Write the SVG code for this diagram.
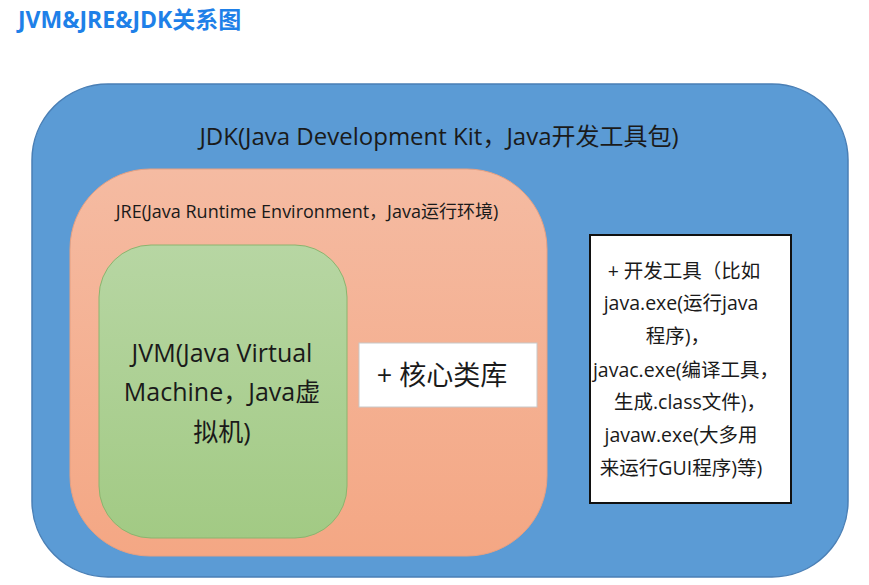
<svg xmlns="http://www.w3.org/2000/svg" width="869" height="585" viewBox="0 0 869 585">
<defs>
<linearGradient id="gJre" x1="0" y1="0" x2="0" y2="1">
<stop offset="0" stop-color="#F5BBA2"/>
<stop offset="1" stop-color="#F4A784"/>
</linearGradient>
<linearGradient id="gJvm" x1="0" y1="0" x2="0" y2="1">
<stop offset="0" stop-color="#B7D6A3"/>
<stop offset="1" stop-color="#A2CA84"/>
</linearGradient>
<style>
text{font-family:"Open Sans","Noto Sans CJK SC",sans-serif;fill:#1a1a1a;}
.title{font-weight:bold;fill:#1E80E8;font-size:23px;}
</style>
</defs>
<rect width="869" height="585" fill="#ffffff"/>
<text class="title" x="18" y="28">JVM&amp;JRE&amp;JDK关系图</text>
<g id="jdk">
<rect x="32" y="84" width="816" height="493" rx="76" ry="76" fill="#5B9BD5" stroke="#4A7FB5" stroke-width="1.5"/>
<text x="439" y="145" text-anchor="middle" font-size="24">JDK(Java Development Kit，Java开发工具包)</text>
</g>
<g id="jre">
<rect x="70" y="169" width="477" height="387" rx="80" ry="80" fill="url(#gJre)" stroke="#E8A080" stroke-width="1"/>
<text x="307" y="218" text-anchor="middle" font-size="18">JRE(Java Runtime Environment，Java运行环境)</text>
</g>
<g id="jvm">
<rect x="99" y="245" width="248" height="293" rx="52" ry="52" fill="url(#gJvm)" stroke="#8CB46E" stroke-width="1"/>
<text text-anchor="middle" font-size="25"><tspan x="222" y="362">JVM(Java Virtual</tspan><tspan x="222" y="401">Machine，Java虚</tspan><tspan x="222" y="441">拟机)</tspan></text>
</g>
<g id="corelib">
<rect x="359" y="343" width="178" height="64" fill="#ffffff" stroke="#C8C8C8" stroke-width="1"/>
<text x="442" y="385" text-anchor="middle" font-size="27">+ 核心类库</text>
</g>
<g id="devtools">
<rect x="590" y="235" width="201" height="268" fill="#ffffff" stroke="#111111" stroke-width="2"/>
<text text-anchor="middle" font-size="19.5"><tspan x="684" y="278">+ 开发工具（比如</tspan><tspan x="681" y="310">java.exe(运行java</tspan><tspan x="678" y="343">程序)，</tspan><tspan x="686" y="377">javac.exe(编译工具，</tspan><tspan x="690" y="409">生成.class文件)，</tspan><tspan x="681" y="442">javaw.exe(大多用</tspan><tspan x="681" y="475">来运行GUI程序)等)</tspan></text>
</g>
<g id="connectors"></g>
</svg>
